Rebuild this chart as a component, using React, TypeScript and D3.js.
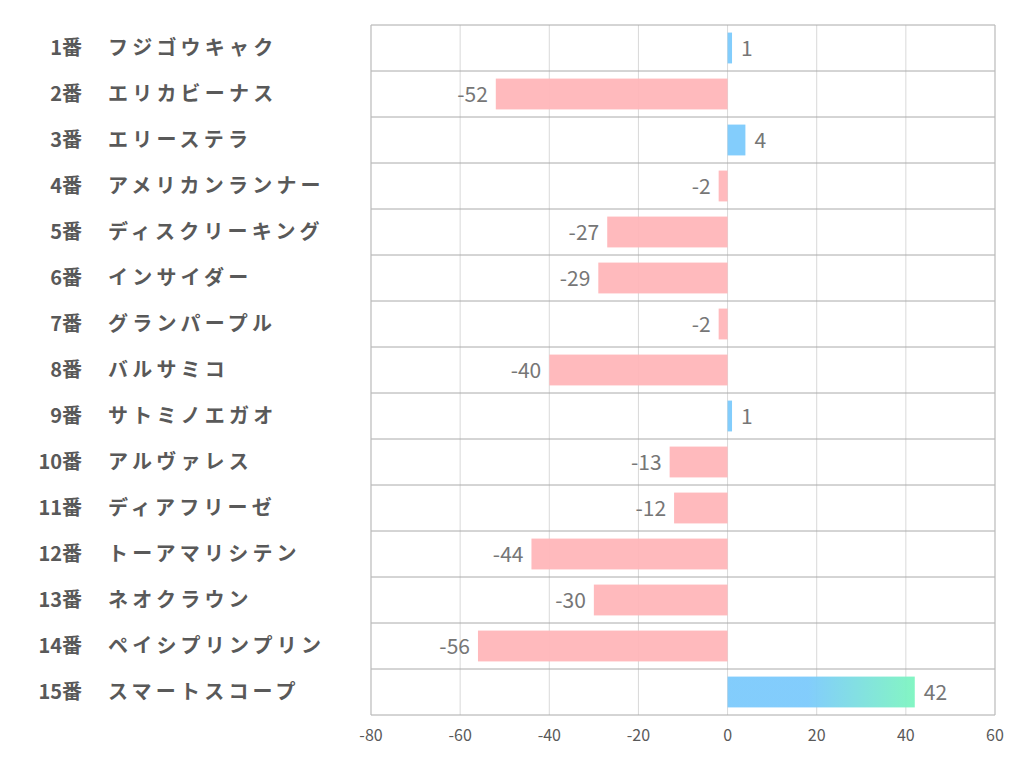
import React from "react";
import * as d3 from "d3";

const numbers = ["1番","2番","3番","4番","5番","6番","7番","8番","9番","10番","11番","12番","13番","14番","15番"];
const names = ["フジゴウキャク","エリカビーナス","エリーステラ","アメリカンランナー","ディスクリーキング","インサイダー","グランパープル","バルサミコ","サトミノエガオ","アルヴァレス","ディアフリーゼ","トーアマリシテン","ネオクラウン","ペイシプリンプリン","スマートスコープ"];
const values = [1,-52,4,-2,-27,-29,-2,-40,1,-13,-12,-44,-30,-56,42];
const xTicks = [-80,-60,-40,-20,0,20,40,60];

const W = 1022, H = 782;
const left = 371, right = 995, top = 25, bottom = 715;

export default function App() {
  const x = d3.scaleLinear().domain([-80, 60]).range([left, right]);
  const y = d3.scaleBand<number>().domain(d3.range(values.length)).range([top, bottom]).paddingInner(0.33).paddingOuter(0.165);
  const rowH = (bottom - top) / values.length;
  const font = "'Noto Sans CJK JP', 'Noto Sans', sans-serif";
  return (
    <svg width={W} height={H} style={{ position: "absolute", left: 0, top: 0, fontFamily: font }}>
      <defs>
        <linearGradient id="g15" gradientUnits="userSpaceOnUse" x1={x(18)} x2={x(42)} y1={0} y2={0}>
          <stop offset="0" stopColor="#7ccafc" />
          <stop offset="1" stopColor="#7df5c0" />
        </linearGradient>
      </defs>
      <rect x={0} y={0} width={W} height={H} fill="#fff" />
      {xTicks.map((t) => (
        <line key={"g" + t} x1={x(t)} x2={x(t)} y1={top} y2={bottom} stroke="#d9d9d9" strokeWidth={1} />
      ))}
      {d3.range(values.length + 1).map((i) => (
        <line key={"h" + i} x1={left} x2={right} y1={top + i * rowH} y2={top + i * rowH} stroke="#aaaaaa" strokeWidth={1} />
      ))}
      <line x1={left} x2={left} y1={top} y2={bottom} stroke="#bfbfbf" />
      <line x1={right} x2={right} y1={top} y2={bottom} stroke="#bfbfbf" />
      {values.map((v, i) => {
        const x0 = x(Math.min(0, v));
        const w = Math.abs(x(v) - x(0));
        const fill = i === values.length - 1 ? "url(#g15)" : v >= 0 ? "#7ccafc" : "#ffb6b9";
        const cy = y(i)! + y.bandwidth() / 2;
        return (
          <g key={"b" + i}>
            <rect x={x0} y={y(i)} width={w} height={y.bandwidth()} fill={fill} opacity={0.95} />
            <text
              x={v >= 0 ? x(v) + 9 : x(v) - 8}
              y={cy}
              dy="0.36em"
              textAnchor={v >= 0 ? "start" : "end"}
              fontSize={21}
              fill="#767676"
            >
              {v}
            </text>
            <text x={82} y={top + (i + 0.5) * rowH} dy="0.36em" textAnchor="end" fontSize={20} fontWeight="bold" fill="#595959">
              {numbers[i]}
            </text>
            <text x={108} y={top + (i + 0.5) * rowH} dy="0.36em" textAnchor="start" fontSize={20} fontWeight="bold" fill="#595959" letterSpacing={4.2}>
              {names[i]}
            </text>
          </g>
        );
      })}
      {xTicks.map((t) => (
        <text key={"t" + t} x={x(t)} y={741} textAnchor="middle" fontSize={16} fill="#595959">
          {t}
        </text>
      ))}
    </svg>
  );
}
